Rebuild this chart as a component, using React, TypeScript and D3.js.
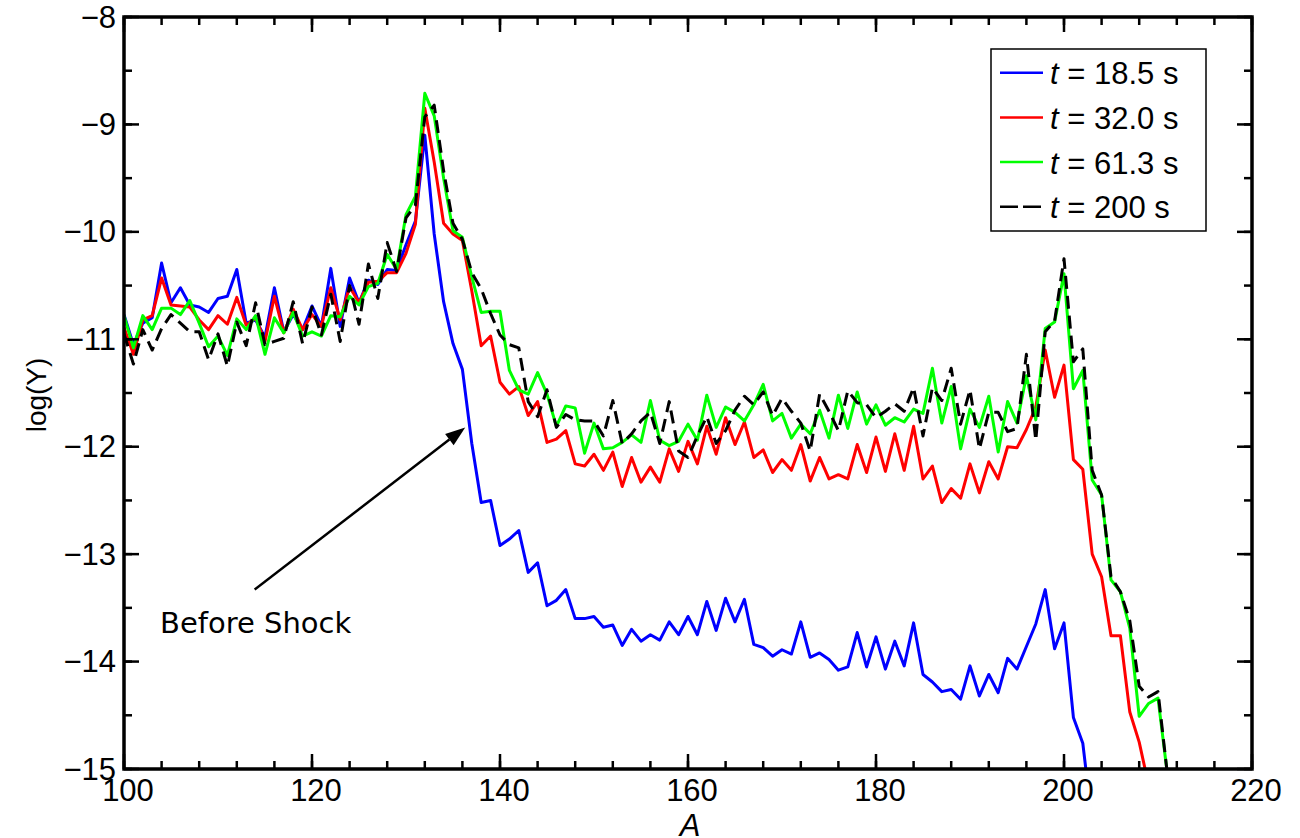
import React from "react";
import * as d3 from "d3";

// Mass numbers A = 100 ... 211 (one abundance per integer A)
const massNumbers: number[] = d3.range(100, 212);

// log(Y) at t = 18.5 s (A = 100 ... 203)
const yields185: number[] = [
  -10.77, -11.05, -10.85, -10.8, -10.29, -10.66, -10.52, -10.68, -10.7, -10.75,
  -10.62, -10.6, -10.35, -10.85, -10.82, -10.98, -10.52, -10.93, -10.77, -10.91,
  -10.69, -10.88, -10.34, -10.88, -10.43, -10.66, -10.45, -10.49, -10.35, -10.36,
  -10.12, -9.9, -9.1, -10.02, -10.65, -11.04, -11.28, -11.97, -12.52, -12.5,
  -12.92, -12.86, -12.78, -13.17, -13.08, -13.48, -13.43, -13.33, -13.6, -13.6,
  -13.58, -13.68, -13.66, -13.85, -13.7, -13.81, -13.75, -13.8, -13.63, -13.75,
  -13.58, -13.75, -13.44, -13.71, -13.41, -13.63, -13.42, -13.84, -13.87, -13.95,
  -13.89, -13.93, -13.63, -13.96, -13.92, -13.98, -14.08, -14.05, -13.73, -14.05,
  -13.77, -14.07, -13.81, -14.04, -13.64, -14.12, -14.19, -14.28, -14.26, -14.35,
  -14.04, -14.32, -14.12, -14.29, -13.97, -14.07, -13.86, -13.65, -13.33, -13.88,
  -13.64, -14.52, -14.76, -15.5,
];

// log(Y) at t = 32.0 s (A = 100 ... 209)
const yields320: number[] = [
  -10.89, -11.14, -10.82, -10.78, -10.43, -10.68, -10.69, -10.7, -10.82, -10.91,
  -10.78, -10.86, -10.61, -10.87, -10.8, -11.02, -10.6, -10.94, -10.72, -10.91,
  -10.77, -10.88, -10.52, -10.82, -10.51, -10.66, -10.47, -10.46, -10.38, -10.38,
  -10.2, -9.93, -8.85, -9.35, -9.92, -10.02, -10.08, -10.55, -11.06, -10.97,
  -11.4, -11.51, -11.44, -11.71, -11.58, -11.96, -11.93, -11.85, -12.16, -12.18,
  -12.07, -12.22, -12.05, -12.37, -12.1, -12.33, -12.19, -12.33, -12.02, -12.23,
  -11.95, -12.16, -11.81, -12.07, -11.73, -11.98, -11.77, -12.1, -12.03, -12.24,
  -12.12, -12.22, -11.98, -12.32, -12.1, -12.3, -12.26, -12.3, -11.98, -12.24,
  -11.91, -12.23, -11.88, -12.22, -11.81, -12.3, -12.18, -12.52, -12.39, -12.48,
  -12.16, -12.43, -12.14, -12.3, -12.0, -12.01, -11.84, -11.63, -11.1, -11.54,
  -11.24, -12.12, -12.21, -13.0, -13.21, -13.76, -13.76, -14.47, -14.75, -15.15,
];

// log(Y) at t = 61.3 s (A = 100 ... 211)
const yields613: number[] = [
  -10.78, -11.08, -10.78, -10.91, -10.71, -10.71, -10.77, -10.64, -10.85, -11.07,
  -10.97, -11.15, -10.81, -10.91, -10.78, -11.14, -10.8, -10.94, -10.75, -10.97,
  -10.93, -10.97, -10.78, -10.79, -10.6, -10.68, -10.51, -10.48, -10.21, -10.35,
  -9.84, -9.67, -8.71, -8.92, -9.5, -9.99, -10.05, -10.42, -10.75, -10.74,
  -10.74, -11.29, -11.47, -11.51, -11.31, -11.51, -11.81, -11.62, -11.64, -12.06,
  -11.78, -12.02, -12.01, -11.96, -11.89, -11.96, -11.57, -11.94, -11.99, -11.95,
  -11.79, -11.94, -11.52, -11.82, -11.63, -11.68, -11.76, -11.61, -11.42, -11.76,
  -11.69, -11.92, -11.79, -11.88, -11.66, -11.92, -11.52, -11.83, -11.49, -11.79,
  -11.61, -11.8, -11.73, -11.77, -11.65, -11.69, -11.27, -11.78, -11.44, -12.02,
  -11.65, -11.82, -11.53, -12.05, -11.58, -11.78, -11.34, -11.75, -10.9, -10.84,
  -10.39, -11.46, -11.29, -12.31, -12.45, -13.24, -13.35, -13.69, -14.51, -14.39,
  -14.34, -15.05,
];

// log(Y) at t = 200 s (A = 100 ... 211)
const yields200: number[] = [
  -10.95, -11.23, -10.91, -11.1, -10.9, -10.77, -10.85, -10.93, -10.93, -11.19,
  -10.95, -11.25, -10.84, -11.06, -10.66, -11.05, -11.02, -10.99, -10.65, -11.04,
  -10.7, -10.96, -10.58, -11.02, -10.5, -10.86, -10.3, -10.62, -10.1, -10.37,
  -9.87, -9.75, -8.93, -8.82, -9.43, -9.92, -10.07, -10.38, -10.53, -10.76,
  -10.96, -11.05, -11.08, -11.58, -11.72, -11.47, -11.82, -11.7, -11.75, -11.76,
  -11.76, -11.9, -11.57, -11.97, -11.88, -11.76, -11.68, -11.97, -11.58, -12.04,
  -12.1, -11.9, -11.72, -11.97, -11.85, -11.66, -11.53, -11.61, -11.49, -11.71,
  -11.55, -11.67, -11.78, -12.04, -11.51, -11.67, -11.85, -11.48, -11.59, -11.61,
  -11.73, -11.67, -11.6, -11.67, -11.45, -11.9, -11.45, -11.57, -11.27, -11.79,
  -11.47, -12.02, -11.68, -11.68, -11.86, -11.83, -11.14, -11.94, -10.93, -10.83,
  -10.25, -11.21, -11.09, -12.22, -12.45, -13.21, -13.35, -13.62, -14.23, -14.33,
  -14.28, -15.05,
];

const seriesLabels: string[] = ["18.5 s", "32.0 s", "61.3 s", "200 s"];
const seriesColors: string[] = ["#0000ff", "#ff0000", "#00ff00", "#000000"];
const seriesDashes: (string | null)[] = [null, null, null, "13,7"];
const seriesValues: number[][] = [yields185, yields320, yields613, yields200];

const xMajorTicks: number[] = [100, 120, 140, 160, 180, 200, 220];
const xMinorTicks: number[] = d3.range(100, 221, 4);
const yMajorTicks: number[] = [-8, -9, -10, -11, -12, -13, -14, -15];
const yMinorTicks: number[] = d3.range(-15, -7.9, 0.5);

// Annotation arrow: tail and head in data coordinates
const arrowTail: [number, number] = [113.9, -13.33];
const arrowHead: [number, number] = [136.3, -11.82];
const arrowText = "Before Shock";

const W = 1300;
const H = 838;
const plot = { left: 124, right: 1252, top: 17, bottom: 769 };

const fmt = (v: number) => (v < 0 ? "\u2212" + Math.abs(v) : String(v));

export default function App() {
  const x = d3.scaleLinear().domain([100, 220]).range([plot.left, plot.right]);
  const y = d3.scaleLinear().domain([-15, -8]).range([plot.bottom, plot.top]);
  const line = d3
    .line<number>()
    .x((_, i) => x(massNumbers[i]))
    .y((v) => y(v));

  const font = "'Liberation Sans', Arial, Helvetica, sans-serif";
  const tickFont = 31;

  // arrow geometry
  const tx = x(arrowTail[0]);
  const ty = y(arrowTail[1]);
  const hx = x(arrowHead[0]);
  const hy = y(arrowHead[1]);
  const ang = Math.atan2(hy - ty, hx - tx);
  const headLen = 20;
  const headHalf = 7;
  const bx = hx - headLen * Math.cos(ang);
  const by = hy - headLen * Math.sin(ang);
  const px = -Math.sin(ang);
  const py = Math.cos(ang);
  const headPts = `${hx},${hy} ${bx + headHalf * px},${by + headHalf * py} ${bx - headHalf * px},${by - headHalf * py}`;

  const legend = { left: 991, top: 49, width: 215, height: 182, rowH: 44.7, firstY: 72.7 };

  return (
    <svg
      width={W}
      height={H}
      style={{ position: "absolute", left: 0, top: 0, background: "#fff" }}
      fontFamily={font}
    >
      <defs>
        <clipPath id="plotClip">
          <rect x={plot.left} y={plot.top} width={plot.right - plot.left} height={plot.bottom - plot.top} />
        </clipPath>
      </defs>
      <rect x={0} y={0} width={W} height={H} fill="#fff" />

      {/* data curves */}
      <g clipPath="url(#plotClip)">
        {seriesValues.map((vals, k) => (
          <path
            key={k}
            d={line(vals) || ""}
            fill="none"
            stroke={seriesColors[k]}
            strokeWidth={3}
            strokeDasharray={seriesDashes[k] || undefined}
            strokeLinejoin="round"
          />
        ))}
      </g>

      {/* ticks on all four sides */}
      <g stroke="#000" strokeWidth={2.5}>
        {xMinorTicks.map((t) => (
          <g key={"xm" + t}>
            <line x1={x(t)} x2={x(t)} y1={plot.bottom} y2={plot.bottom - 8} />
            <line x1={x(t)} x2={x(t)} y1={plot.top} y2={plot.top + 8} />
          </g>
        ))}
        {xMajorTicks.map((t) => (
          <g key={"xM" + t}>
            <line x1={x(t)} x2={x(t)} y1={plot.bottom} y2={plot.bottom - 15} />
            <line x1={x(t)} x2={x(t)} y1={plot.top} y2={plot.top + 15} />
          </g>
        ))}
        {yMinorTicks.map((t) => (
          <g key={"ym" + t}>
            <line x1={plot.left} x2={plot.left + 8} y1={y(t)} y2={y(t)} />
            <line x1={plot.right} x2={plot.right - 8} y1={y(t)} y2={y(t)} />
          </g>
        ))}
        {yMajorTicks.map((t) => (
          <g key={"yM" + t}>
            <line x1={plot.left} x2={plot.left + 15} y1={y(t)} y2={y(t)} />
            <line x1={plot.right} x2={plot.right - 15} y1={y(t)} y2={y(t)} />
          </g>
        ))}
      </g>

      {/* axes box */}
      <rect
        x={plot.left}
        y={plot.top}
        width={plot.right - plot.left}
        height={plot.bottom - plot.top}
        fill="none"
        stroke="#000"
        strokeWidth={3.5}
      />

      {/* tick labels */}
      <g fontSize={tickFont} fill="#000">
        {yMajorTicks.map((t) => (
          <text key={"yl" + t} x={plot.left - 8} y={y(t)} textAnchor="end" dominantBaseline="central">
            {fmt(t)}
          </text>
        ))}
        {xMajorTicks.map((t) => (
          <text key={"xl" + t} x={x(t) + 4} y={plot.bottom + 32} textAnchor="middle">
            {fmt(t)}
          </text>
        ))}
      </g>

      {/* axis titles */}
      <text x={690} y={836} fontSize={31} fontStyle="italic" textAnchor="middle">
        A
      </text>
      <text
        transform={`translate(46,395) rotate(-90)`}
        fontSize={28}
        textAnchor="middle"
      >
        log(Y)
      </text>

      {/* annotation */}
      <line x1={tx} y1={ty} x2={bx} y2={by} stroke="#000" strokeWidth={2.5} />
      <polygon points={headPts} fill="#000" />
      <text x={160} y={633} fontSize={29} fontFamily="'DejaVu Sans', 'Open Sans', sans-serif">
        {arrowText}
      </text>

      {/* legend */}
      <g>
        <rect
          x={legend.left}
          y={legend.top}
          width={legend.width}
          height={legend.height}
          fill="#fff"
          stroke="#000"
          strokeWidth={1.5}
        />
        {seriesLabels.map((lab, k) => {
          const ly = legend.firstY + k * legend.rowH;
          return (
            <g key={lab}>
              <line
                x1={1000}
                x2={1043}
                y1={ly}
                y2={ly}
                stroke={seriesColors[k]}
                strokeWidth={2.5}
                strokeDasharray={seriesDashes[k] ? "18,5" : undefined}
              />
              <text x={1050} y={ly + 11.5} fontSize={31}>
                <tspan fontStyle="italic">t</tspan>
                <tspan> = {lab}</tspan>
              </text>
            </g>
          );
        })}
      </g>
    </svg>
  );
}
